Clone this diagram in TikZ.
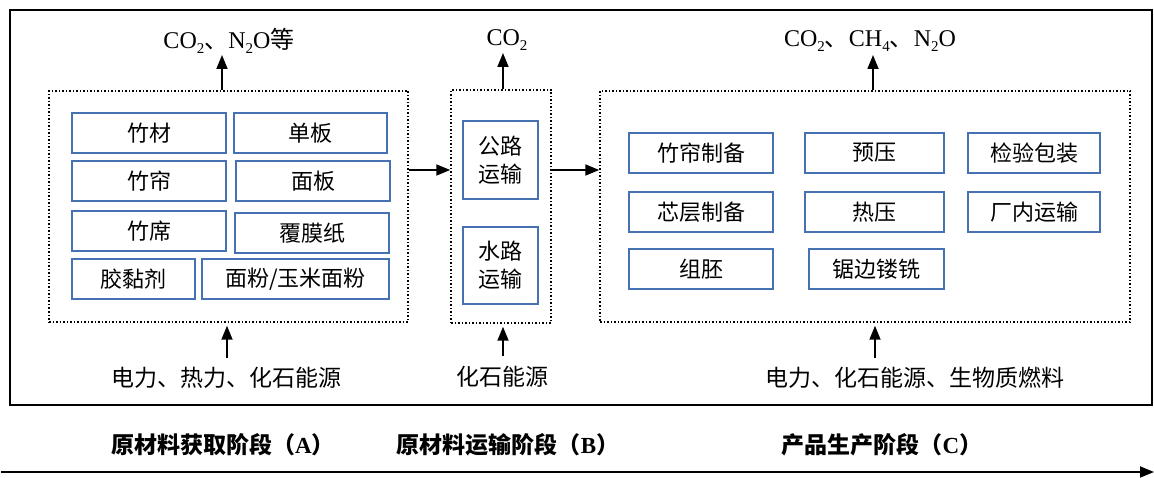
\documentclass[tikz,border=0pt]{standalone}
\usepackage{fontspec}
\setmainfont{Liberation Serif}
\newfontfamily\cjk{Noto Sans CJK SC}
\usetikzlibrary{arrows.meta}
\definecolor{boxblue}{RGB}{70,114,180}
\newcommand\mysub[1]{\raisebox{-0.5ex}{\fontsize{15}{15}\selectfont #1}}
\begin{document}
\begin{tikzpicture}[x=1pt,y=-1pt,
  bbox/.style={draw=boxblue, line width=1.8pt, minimum height=40pt, inner sep=0pt,
    font=\cjk\fontsize{22}{28}\selectfont},
  dbox/.style={draw, dotted, line width=1.5pt, inner sep=0pt},
  arr/.style={-{Triangle[length=14pt,width=11pt]}, line width=1.8pt},
  lbl/.style={inner sep=1pt, font=\fontsize{24}{26}\selectfont},
  src/.style={inner sep=1pt, font=\cjk\fontsize{23}{26}\selectfont},
  stage/.style={inner sep=1pt, font=\cjk\bfseries\fontsize{23}{26}\selectfont}]
\useasboundingbox (0,0) rectangle (1154,478);
% outer frame
\node[draw, line width=2pt, minimum width=1142pt, minimum height=395pt, inner sep=0pt] (outer) at (581,207.5) {};
% dotted stage boxes
\node[dbox, minimum width=359pt, minimum height=231pt] (dA) at (228.5,206.5) {};
\node[dbox, minimum width=100pt, minimum height=233pt] (dB) at (501,206.5) {};
\node[dbox, minimum width=530pt, minimum height=231pt] (dC) at (865,206.5) {};
% stage A boxes
\node[bbox, minimum width=154pt] (a1) at (149,133) {竹材};
\node[bbox, minimum width=153pt] (a2) at (310.5,133) {单板};
\node[bbox, minimum width=154pt] (a3) at (149,181) {竹帘};
\node[bbox, minimum width=154pt] (a4) at (313,181) {面板};
\node[bbox, minimum width=154pt] (a5) at (149,231) {竹席};
\node[bbox, minimum width=154pt] (a6) at (312,233) {覆膜纸};
\node[bbox, minimum width=123pt] (a7) at (133.5,279) {胶黏剂};
\node[bbox, minimum width=187pt] (a8) at (295.5,279) {面粉/玉米面粉};
% stage B boxes
\node[bbox, minimum width=75pt, minimum height=78pt, align=center] (b1) at (500.5,160) {公路\\运输};
\node[bbox, minimum width=75pt, minimum height=77pt, align=center] (b2) at (500.5,265.5) {水路\\运输};
% stage C boxes
\node[bbox, minimum width=144pt] (c1) at (701,153) {竹帘制备};
\node[bbox, minimum width=144pt] (c2) at (701,212) {芯层制备};
\node[bbox, minimum width=144pt] (c3) at (701,269) {组胚};
\node[bbox, minimum width=139pt] (c4) at (874.5,153) {预压};
\node[bbox, minimum width=139pt] (c5) at (874.5,212) {热压};
\node[bbox, minimum width=135pt] (c6) at (876.5,269) {锯边镂铣};
\node[bbox, minimum width=132pt] (c7) at (1034,153) {检验包装};
\node[bbox, minimum width=132pt] (c8) at (1034,212) {厂内运输};
% emission labels
\node[lbl] (tA) at (229,41) {CO\mysub{2}{\cjk 、}N\mysub{2}O{\cjk 等}};
\node[lbl] (tB) at (507,40) {CO\mysub{2}};
\node[lbl] (tC) at (870,41) {CO\mysub{2}{\cjk 、}CH\mysub{4}{\cjk 、}N\mysub{2}O};
\coordinate (eA) at (222,55);
\coordinate (eB) at (503,53);
\coordinate (eC) at (873,55);
\draw[arr] (dA.north -| eA) -- (eA);
\draw[arr] (dB.north -| eB) -- (eB);
\draw[arr] (dC.north -| eC) -- (eC);
% energy inputs
\node[src] (sA) at (226,378) {电力、热力、化石能源};
\node[src] (sB) at (502,377) {化石能源};
\node[src] (sC) at (915,378) {电力、化石能源、生物质燃料};
\coordinate (iA) at (227,358);
\coordinate (iB) at (503,356);
\coordinate (iC) at (875,358);
\draw[arr, shorten >=3pt] (iA) -- (iA |- dA.south);
\draw[arr, shorten >=3pt] (iB) -- (iB |- dB.south);
\draw[arr, shorten >=3pt] (iC) -- (iC |- dC.south);
% flow arrows
\coordinate (row) at (0,170);
\draw[arr] (dA.east |- row) -- (dB.west |- row);
\draw[arr] (dB.east |- row) -- (dC.west |- row);
% stage labels and time axis
\node[stage] (stA) at (223,445) {原材料获取阶段（{\rmfamily\bfseries A}）};
\node[stage] (stB) at (508,445) {原材料运输阶段（{\rmfamily\bfseries B}）};
\node[stage] (stC) at (882,445) {产品生产阶段（{\rmfamily\bfseries C}）};
\coordinate (axL) at (1,472);
\coordinate (axR) at (1154,472);
\draw[arr] (axL) -- (axR);
\end{tikzpicture}
\end{document}
